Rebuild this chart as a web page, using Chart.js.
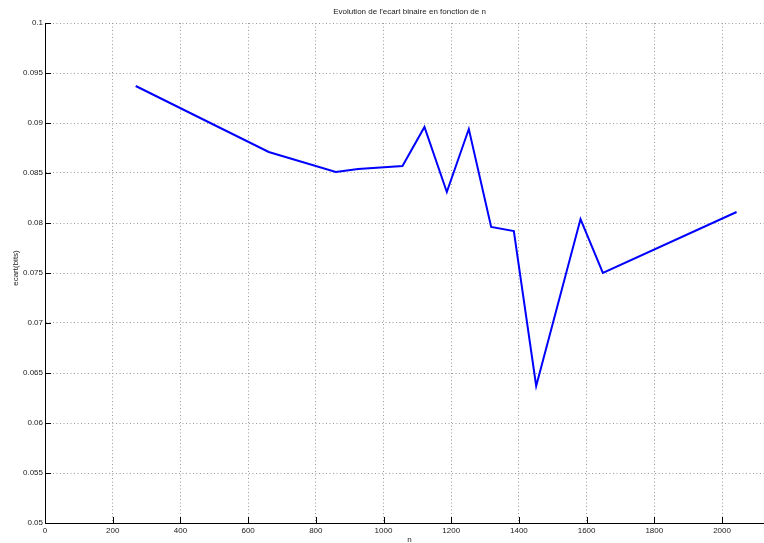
<!DOCTYPE html>
<html>
<head>
<meta charset="utf-8">
<title>Evolution de l'ecart binaire en fonction de n</title>
<script src="https://cdn.jsdelivr.net/npm/chart.js@4/dist/chart.umd.min.js"></script>
<style>
  html, body { margin: 0; padding: 0; background: #ffffff; }
  canvas { display: block; }
</style>
</head>
<body>
<canvas id="chart" width="764" height="543"></canvas>
<script>
// Mesures : taille du bloc n et écart binaire obtenu (bits)
const nValues   = [268, 661, 859, 925, 1056, 1121, 1187, 1252, 1318, 1385, 1451, 1582, 1648, 2043];
const ecartBits = [0.0937, 0.0871, 0.0851, 0.0854, 0.0857, 0.0896, 0.0831, 0.0894, 0.0796, 0.0792, 0.0637, 0.0804, 0.0750, 0.0811];

// Graduations des axes
const xTicks = [0, 200, 400, 600, 800, 1000, 1200, 1400, 1600, 1800, 2000];
const yTicks = [0.05, 0.055, 0.06, 0.065, 0.07, 0.075, 0.08, 0.085, 0.09, 0.095, 0.1];
const yTickLabels = ['0.05', '0.055', '0.06', '0.065', '0.07', '0.075', '0.08', '0.085', '0.09', '0.095', '0.1'];

const titleText = "Evolution de l'ecart binaire en fonction de n";
const xLabel = 'n';
const yLabel = 'ecart(bits)';

const FONT = '"Liberation Sans", Arial, Helvetica, sans-serif';
const TEXT_COLOR = '#1a1a1a';
const GRID_COLOR = '#9a9a9a';

// Petits traits de graduation tournés vers l'intérieur, et textes du titre / des axes
const decorations = {
  id: 'decorations',
  afterDatasetsDraw(chart) {
    const { ctx, chartArea, scales } = chart;
    const xs = scales.x, ys = scales.y;
    ctx.save();
    ctx.strokeStyle = '#000000';
    ctx.lineWidth = 1;
    ctx.beginPath();
    xTicks.forEach(v => {
      const px = Math.round(xs.getPixelForValue(v)) + 0.5;
      ctx.moveTo(px, chartArea.bottom);
      ctx.lineTo(px, chartArea.bottom - 6);
    });
    yTicks.forEach(v => {
      const py = Math.round(ys.getPixelForValue(v)) + 0.5;
      ctx.moveTo(chartArea.left, py);
      ctx.lineTo(chartArea.left + 6, py);
    });
    ctx.stroke();
    ctx.restore();
  },
  afterDraw(chart) {
    const { ctx } = chart;
    ctx.save();
    ctx.fillStyle = TEXT_COLOR;
    ctx.font = '8px ' + FONT;
    ctx.textAlign = 'center';
    ctx.textBaseline = 'middle';
    ctx.fillText(titleText, 409.5, 12);
    ctx.fillText(xLabel, 409.5, 540);
    ctx.translate(15.5, 268);
    ctx.rotate(-Math.PI / 2);
    ctx.fillText(yLabel, 0, 0);
    ctx.restore();
  }
};

new Chart(document.getElementById('chart'), {
  type: 'line',
  data: {
    datasets: [{
      data: nValues.map((n, i) => ({ x: n, y: ecartBits[i] })),
      borderColor: '#0000ff',
      borderWidth: 2,
      pointRadius: 0,
      tension: 0,
      fill: false
    }]
  },
  options: {
    responsive: false,
    animation: false,
    devicePixelRatio: 1,
    layout: { padding: { top: 23, right: 0, bottom: 0, left: 0 } },
    plugins: {
      legend: { display: false },
      title: { display: false },
      tooltip: { enabled: false }
    },
    scales: {
      x: {
        type: 'linear',
        min: 0,
        max: 2124,
        afterBuildTicks(scale) { scale.ticks = xTicks.map(v => ({ value: v })); },
        afterFit(scale) { scale.height = 20; },
        ticks: {
          autoSkip: false,
          maxRotation: 0,
          padding: 3,
          color: TEXT_COLOR,
          font: { family: FONT, size: 8 },
          callback: v => String(v)
        },
        grid: { color: GRID_COLOR, lineWidth: 1, drawTicks: false },
        border: { display: true, color: '#000000', width: 1, dash: [1, 2.5] }
      },
      y: {
        type: 'linear',
        min: 0.05,
        max: 0.1,
        afterBuildTicks(scale) { scale.ticks = yTicks.map(v => ({ value: v })); },
        afterFit(scale) { scale.width = 45; },
        ticks: {
          autoSkip: false,
          padding: 2,
          color: TEXT_COLOR,
          font: { family: FONT, size: 8 },
          callback: (v, i) => yTickLabels[i]
        },
        grid: { color: GRID_COLOR, lineWidth: 1, drawTicks: false },
        border: { display: true, color: '#000000', width: 1, dash: [1, 2.5] }
      }
    }
  },
  plugins: [decorations]
});
</script>
</body>
</html>
